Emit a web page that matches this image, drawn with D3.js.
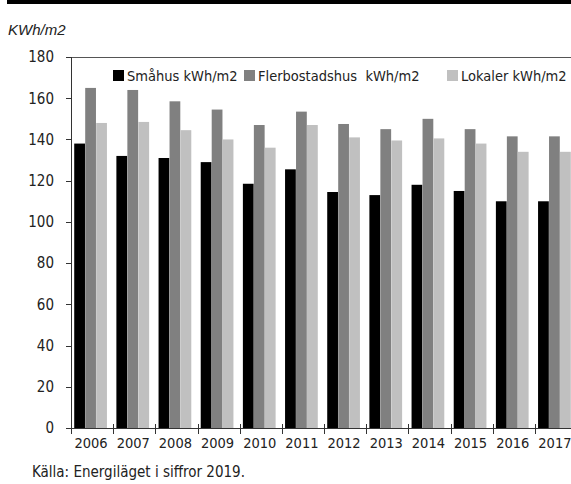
<!DOCTYPE html>
<html lang="en">
<head>
<meta charset="UTF-8">
<title>KWh/m2</title>
<style>
    body{ margin:0; background:#fff; }
    .axis text{ font:15px "Liberation Sans Narrow", "DejaVu Sans Condensed", sans-serif; fill:#222; }
    .axis path, .axis line{ stroke:#333; shape-rendering:crispEdges; }
    .legend text{ font:14.5px "Liberation Sans Narrow", "DejaVu Sans Condensed", sans-serif; fill:#222; }
</style>
</head>
<body>
<svg width="571" height="484"></svg>
<script src="https://cdnjs.cloudflare.com/ajax/libs/d3/7.8.5/d3.min.js"></script>
<script>
var years = ["2006","2007","2008","2009","2010","2011","2012","2013","2014","2015","2016","2017"];
var seriesNames = ["Småhus kWh/m2", "Flerbostadshus  kWh/m2", "Lokaler kWh/m2"];
var smahus = [138, 132, 131, 129, 118.5, 125.5, 114.5, 113, 118, 115, 110, 110];
var flerbostadshus = [165, 164, 158.5, 154.5, 147, 153.5, 147.5, 145, 150, 145, 141.5, 141.5];
var lokaler = [148, 148.5, 144.5, 140, 136, 147, 141, 139.5, 140.5, 138, 134, 134];
var yTicks = [0, 20, 40, 60, 80, 100, 120, 140, 160, 180];
var colors = ["#000000", "#808080", "#c0c0c0"];

var svg = d3.select("svg");
var plotLeft = 71, plotRight = 577, plotTop = 57, plotBottom = 428;

// black band at the very top
svg.append("rect").attr("x", 7).attr("y", 0).attr("width", 564).attr("height", 4).attr("fill", "#000");

svg.append("text").attr("x", 8).attr("y", 35)
    .style("font", "italic 15px 'Liberation Sans', Arial, sans-serif").style("fill", "#222")
    .text("KWh/m2");

var x = d3.scaleBand().domain(years).range([plotLeft, plotRight]);
var inner = d3.scaleBand().domain([0, 1, 2]).range([3, x.bandwidth() - 6]).padding(0.02);
var y = d3.scaleLinear().domain([0, 180]).range([plotBottom, plotTop]);

var data = [smahus, flerbostadshus, lokaler];

// top border line at 180
svg.append("line").attr("x1", plotLeft).attr("x2", 571).attr("y1", y(180) + 0.5).attr("y2", y(180) + 0.5)
    .attr("stroke", "#555");

data.forEach(function(vals, s){
    svg.append("g").selectAll("rect")
        .data(vals)
        .enter().append("rect")
        .attr("x", function(d, i){ return x(years[i]) + inner(s); })
        .attr("y", function(d){ return y(d); })
        .attr("width", inner.bandwidth())
        .attr("height", function(d){ return y(0) - y(d); })
        .attr("fill", colors[s]);
});

svg.append("g")
    .attr("class", "axis")
    .attr("transform", "translate(" + plotLeft + ",0)")
    .call(d3.axisLeft(y).tickValues(yTicks).tickSize(5).tickPadding(12))
    .call(function(g){ g.select(".domain").attr("d", "M0.5," + plotTop + "V" + plotBottom); });

var xAxis = svg.append("g")
    .attr("class", "axis")
    .attr("transform", "translate(0," + plotBottom + ")");
xAxis.append("line").attr("x1", plotLeft).attr("x2", 571).attr("y1", 0.5).attr("y2", 0.5).attr("stroke", "#333");
xAxis.selectAll(".tk").data(years).enter().append("line")
    .attr("x1", function(d){ return x(d) + 0.5; })
    .attr("x2", function(d){ return x(d) + 0.5; })
    .attr("y1", -4).attr("y2", 6).attr("stroke", "#333");
xAxis.selectAll(".lbl").data(years).enter().append("text")
    .attr("x", function(d){ return x(d) + x.bandwidth() / 2 - 1; })
    .attr("y", 20)
    .attr("text-anchor", "middle")
    .style("font-size", "14.5px")
    .text(function(d){ return d; });

// legend
var legendX = [113, 244, 447];
var legend = svg.append("g").attr("class", "legend");
seriesNames.forEach(function(name, i){
    legend.append("rect").attr("x", legendX[i]).attr("y", 70).attr("width", 11).attr("height", 11).attr("fill", colors[i]);
    legend.append("text").attr("x", legendX[i] + 14).attr("y", 81).style("white-space", "pre").text(name);
});

svg.append("text").attr("x", 32).attr("y", 477)
    .style("font", "15px 'Liberation Sans Narrow', 'DejaVu Sans Condensed', sans-serif").style("fill", "#222")
    .text("Källa: Energiläget i siffror 2019.");
</script>
</body>
</html>
